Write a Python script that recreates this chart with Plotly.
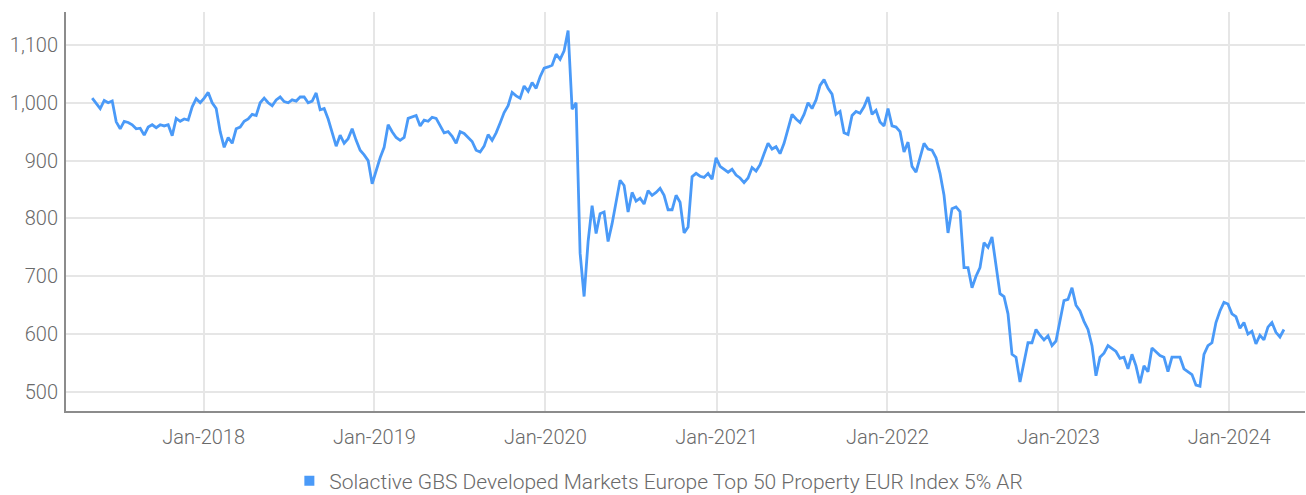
import pandas as pd
import plotly.graph_objects as go

series_name = "Solactive GBS Developed Markets Europe Top 50 Property EUR Index 5% AR"
start_date = "2017-05-08"
end_date = "2024-04-27"

values_2017_2018 = [1008, 998, 990, 1004, 1000, 1003, 967, 955, 968, 966, 962, 955, 956, 944, 958, 962, 957,
                    962, 960, 962, 943, 973, 968, 972, 970, 993, 1007, 1000, 1008, 1018, 1000, 990, 950, 923,
                    940, 930, 955, 958, 968, 972, 980, 978, 1000, 1008, 1000, 995, 1005,
                    1010, 1002, 1000, 1005, 1003]
values_2018_2019 = [1010, 1010, 1000, 1003, 1017, 988, 990, 972, 950, 925, 944, 930, 938, 955, 935, 918, 910,
                    900, 860, 883, 905, 923, 962, 950, 940, 935, 940, 973, 975, 978, 960, 970, 968, 975, 973,
                    960, 948, 950, 942, 930, 950, 947, 940, 933, 918, 915]
values_2019_2020 = [925, 945, 935, 948, 965, 983, 995, 1018, 1012, 1008, 1029, 1020, 1035, 1025, 1045, 1060,
                    1062, 1065, 1084, 1075, 1090, 1125, 989, 1000, 740, 665, 760, 822, 774, 808, 811, 760, 791,
                    830, 866, 857, 811, 845, 830, 835, 825, 848, 840, 845, 852, 840, 815, 815, 840,
                    828, 775, 785]
values_2020_2021 = [872, 878, 873, 871, 878, 868, 905, 890, 885, 880, 885, 875, 870, 862, 870, 888, 882, 893,
                    912, 930, 920, 924, 912, 930, 955, 980, 972, 966, 980, 1000, 990, 1005, 1030, 1040, 1025,
                    1015, 980, 985, 948, 945, 978, 985, 982, 993, 1010, 980]
values_2022 = [987, 967, 960, 990, 960, 958, 950, 915, 932, 890, 880, 905, 930, 920, 918, 905, 878, 840, 775,
               817, 820, 812, 715, 715, 680, 700, 715, 758, 750, 768, 715, 670, 665, 635, 565, 560, 517, 550,
               585, 585, 608, 598, 590, 597, 580, 588, 620, 658, 660, 680]
values_2023_2024 = [650, 640, 622, 608, 580, 528, 560, 567, 580, 575, 570, 558, 560, 540, 565, 545, 515, 545,
                    535, 576, 570, 563, 560, 535, 560, 560, 560, 540, 535, 530, 512, 510, 565, 580, 585, 620,
                    640, 655, 652, 635, 630, 610, 620, 600, 605, 583, 598, 590, 612, 620, 603, 595, 608]

values = (values_2017_2018 + values_2018_2019 + values_2019_2020 + values_2020_2021
          + values_2022 + values_2023_2024)
dates = pd.date_range(start_date, end_date, periods=len(values))

y_ticks = [500, 600, 700, 800, 900, 1000, 1100]

line_color = "#4A9AF8"
text_color = "#6A6A6A"
font_family = "Roboto, sans-serif"

fig = go.Figure()
fig.add_trace(go.Scatter(x=dates, y=values, mode="lines", line=dict(color=line_color, width=2.8),
                         showlegend=False, name=series_name))
fig.add_trace(go.Scatter(x=[None], y=[None], mode="markers", name=series_name,
                         marker=dict(symbol="square", size=10, color=line_color)))

fig.update_layout(
    width=1306, height=495,
    margin=dict(l=66, r=1, t=12, b=84),
    paper_bgcolor="white", plot_bgcolor="white",
    font=dict(family=font_family, size=20, color=text_color, weight=300),
    showlegend=True,
    legend=dict(orientation="h", x=0.4785, xanchor="center", yref="container", y=0.0283,
                yanchor="middle",
                font=dict(family=font_family, size=21, color=text_color, weight=300),
                itemwidth=30, bgcolor="rgba(0,0,0,0)"),
    xaxis=dict(range=["2017-03-13", "2024-06-11"], tick0="2018-01-01", dtick="M12",
               tickformat="%b-%Y", showgrid=True, gridcolor="#E6E6E6", gridwidth=2,
               showline=True, linecolor="#8C8C8C", linewidth=2, ticks="", ticklabelstandoff=7,
               zeroline=False, automargin=False),
    yaxis=dict(range=[467, 1157], tickvals=y_ticks, tickformat=",d", showgrid=True,
               gridcolor="#E6E6E6", gridwidth=2, showline=True, linecolor="#8C8C8C", linewidth=2,
               ticks="", ticklabelstandoff=2, zeroline=False, automargin=False),
)

fig.write_html("out.html", config={"displayModeBar": False},
               post_script="document.body.style.margin='0';document.body.style.overflow='hidden';")
